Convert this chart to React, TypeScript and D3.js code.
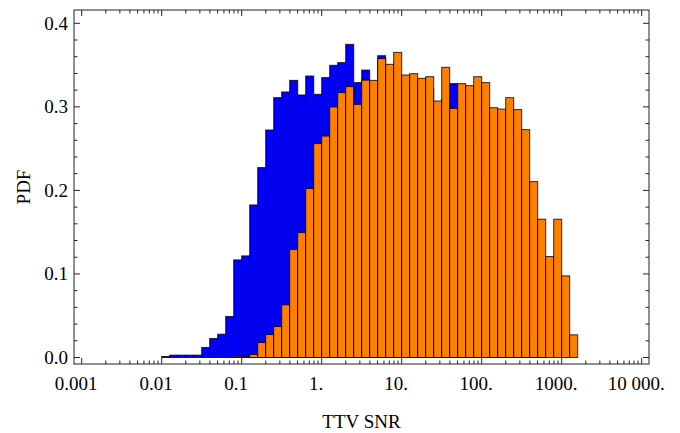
import React from "react";
import * as d3 from "d3";

// Histogram bins: log10 bin edges start at 10^-2 and step by 0.1 decade.
const binStartExp = -2;
const binStepExp = 0.1;

// PDF per log10 unit, one value per bin.
const blueValues = [
  0.0012, 0.0028, 0.0028, 0.0028, 0.0028, 0.012, 0.0227, 0.0279, 0.049, 0.1168,
  0.1216, 0.1826, 0.2273, 0.2723, 0.311, 0.3178, 0.3317, 0.3142, 0.3369, 0.315,
  0.335, 0.3497, 0.3529, 0.3748, 0.329, 0.344, 0.322, 0.3612, 0.334, 0.33,
  0.325, 0.331, 0.318, 0.322, 0.298, 0.31, 0.3278, 0.29, 0.26, 0.22,
  0.18, 0.14, 0.1, 0.07, 0.045, 0.025, 0.012, 0.005, 0, 0,
  0, 0,
];

const orangeValues = [
  0, 0, 0, 0, 0, 0, 0, 0, 0, 0.0015,
  0.0008, 0.0036, 0.0179, 0.0275, 0.0371, 0.063, 0.1292, 0.1495, 0.2022, 0.256,
  0.265, 0.2998, 0.317, 0.3242, 0.303, 0.332, 0.3317, 0.3577, 0.3509, 0.3652,
  0.3381, 0.3397, 0.3341, 0.3361, 0.307, 0.3473, 0.2982, 0.3278, 0.3254, 0.3361,
  0.329, 0.299, 0.2974, 0.311, 0.2967, 0.2727, 0.2105, 0.1655, 0.1208, 0.1655,
  0.0977, 0.0271,
];

const xMajorTicks = [0.001, 0.01, 0.1, 1, 10, 100, 1000, 10000];
const xTickLabels = ["0.001", "0.01", "0.1", "1.", "10.", "100.", "1000.", "10 000."];
const yMajorTicks = [0, 0.1, 0.2, 0.3, 0.4];
const yTickLabels = ["0.0", "0.1", "0.2", "0.3", "0.4"];

const W = 680;
const H = 433;
const frame = { left: 74, right: 649, top: 10, bottom: 364 };
const FONT = '"Liberation Serif", "Times New Roman", Times, "DejaVu Serif", serif';
const textStyle = { fontFamily: FONT, fontSize: "19px" };

const x = d3.scaleLog().domain([0.001, 10000]).range([81.7, 641.7]);
const y = d3.scaleLinear().domain([0, 0.4]).range([357.5, 23.3]);

type Bin = { lo: number; hi: number; v: number };

function toBins(values: number[]): Bin[] {
  return values
    .map((v, i) => ({
      lo: Math.pow(10, binStartExp + i * binStepExp),
      hi: Math.pow(10, binStartExp + (i + 1) * binStepExp),
      v,
    }))
    .filter((b) => b.v > 0);
}

const xMinorTicks: number[] = [];
for (let k = -3; k < 4; k++) {
  for (let m = 2; m <= 9; m++) xMinorTicks.push(m * Math.pow(10, k));
}
const yMinorTicks = d3
  .range(0, 21)
  .map((i) => i * 0.02)
  .filter((v) => !yMajorTicks.some((t) => Math.abs(t - v) < 1e-9));

const MAJ = 6;
const MIN = 3.5;
const axisColor = "#222";

function Bars({ values, fill }: { values: number[]; fill: string }) {
  return (
    <g>
      {toBins(values).map((b, i) => (
        <rect
          key={i}
          x={x(b.lo)}
          y={y(b.v)}
          width={x(b.hi) - x(b.lo)}
          height={y(0) - y(b.v)}
          fill={fill}
          stroke="#000"
          strokeOpacity={0.8}
          strokeWidth={1}
        />
      ))}
    </g>
  );
}

export default function App() {
  return (
    <svg
      width={W}
      height={H}
      style={{ position: "absolute", left: 0, top: 0, background: "#fff" }}
    >
      <Bars values={blueValues} fill="#0000ff" />
      <Bars values={orangeValues} fill="#ff8000" />

      {/* frame */}
      <rect
        x={frame.left}
        y={frame.top}
        width={frame.right - frame.left}
        height={frame.bottom - frame.top}
        fill="none"
        stroke={axisColor}
        strokeWidth={1}
      />

      {/* ticks on all four sides, pointing inward */}
      <g stroke={axisColor} strokeWidth={1}>
        {xMajorTicks.map((t) => (
          <g key={"xM" + t}>
            <line x1={x(t)} x2={x(t)} y1={frame.bottom} y2={frame.bottom - MAJ} />
            <line x1={x(t)} x2={x(t)} y1={frame.top} y2={frame.top + MAJ} />
          </g>
        ))}
        {xMinorTicks.map((t) => (
          <g key={"xm" + t}>
            <line x1={x(t)} x2={x(t)} y1={frame.bottom} y2={frame.bottom - MIN} />
            <line x1={x(t)} x2={x(t)} y1={frame.top} y2={frame.top + MIN} />
          </g>
        ))}
        {yMajorTicks.map((t) => (
          <g key={"yM" + t}>
            <line x1={frame.left} x2={frame.left + MAJ} y1={y(t)} y2={y(t)} />
            <line x1={frame.right} x2={frame.right - MAJ} y1={y(t)} y2={y(t)} />
          </g>
        ))}
        {yMinorTicks.map((t) => (
          <g key={"ym" + t}>
            <line x1={frame.left} x2={frame.left + MIN} y1={y(t)} y2={y(t)} />
            <line x1={frame.right} x2={frame.right - MIN} y1={y(t)} y2={y(t)} />
          </g>
        ))}
      </g>

      {/* tick labels */}
      <g fill="#000">
        {xMajorTicks.map((t, i) => (
          <text key={"xl" + t} x={x(t) - 5.5} y={390} textAnchor="middle" style={textStyle}>
            {xTickLabels[i]}
          </text>
        ))}
        {yMajorTicks.map((t, i) => (
          <text key={"yl" + t} x={68} y={y(t) + 6.5} textAnchor="end" style={textStyle}>
            {yTickLabels[i]}
          </text>
        ))}
      </g>

      {/* axis titles */}
      <text x={361.5} y={428} textAnchor="middle" fill="#000" style={textStyle}>
        TTV SNR
      </text>
      <text
        transform="translate(30, 187) rotate(-90)"
        textAnchor="middle"
        fill="#000"
        style={textStyle}
      >
        PDF
      </text>
    </svg>
  );
}
